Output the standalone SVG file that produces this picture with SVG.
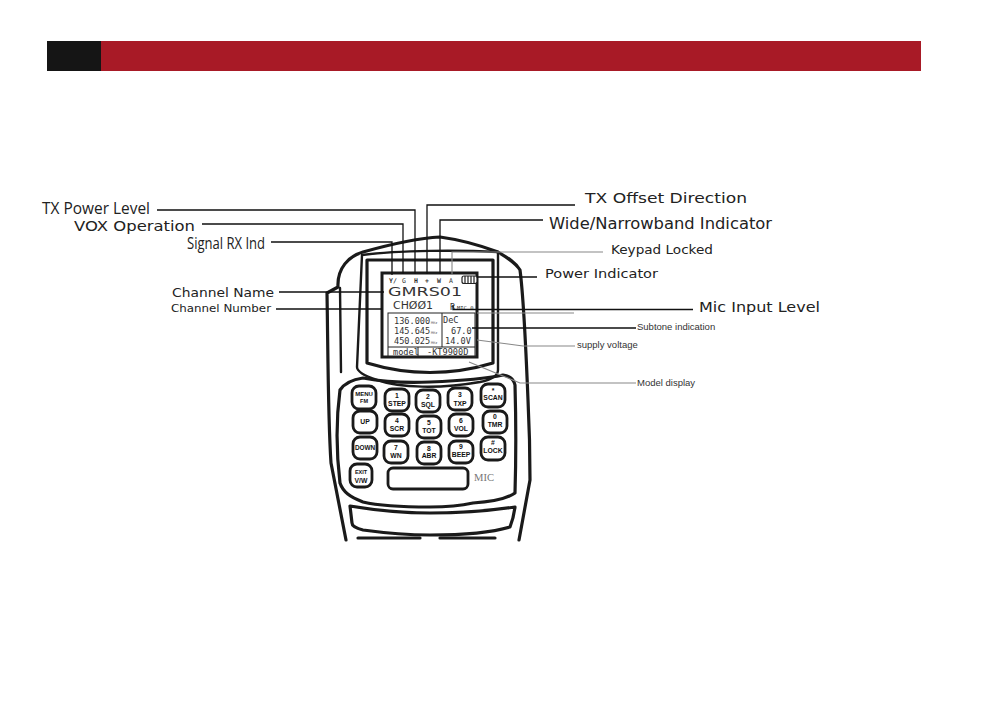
<svg xmlns="http://www.w3.org/2000/svg" width="1008" height="720" viewBox="0 0 1008 720">
<style>
.s{fill:none;stroke:#1a1a1a;stroke-width:2.4;stroke-linejoin:round;stroke-linecap:round}
.t{stroke-width:3.2}
.c{fill:none;stroke:#111;stroke-width:1.3}
.g{fill:none;stroke:#888;stroke-width:1.1}
.l{font-family:"DejaVu Sans",sans-serif;fill:#222}
.o{font-family:"Open Sans",sans-serif;fill:#222}
.n{font-family:"Liberation Sans",Arial,sans-serif;fill:#333;font-size:9.5px}
.k{font-family:"Liberation Sans",Arial,sans-serif;font-weight:700;font-size:6.8px;fill:#111;text-anchor:middle}
.d{font-family:"DejaVu Sans Mono",monospace;fill:#333;font-size:8.6px}
.i{font-family:"DejaVu Sans Mono",monospace;fill:#333;font-size:6.5px;font-weight:700}
.u{font-family:"DejaVu Sans Mono",monospace;fill:#555;font-size:3.5px}
.b{fill:#fff;stroke:#1a1a1a;stroke-width:2.8}
</style>
<rect width="1008" height="720" fill="#fff"/>
<g id="header">
<rect x="47" y="41" width="54" height="30" fill="#151515"/>
<rect x="101" y="41" width="820" height="30" fill="#a81a26"/>
</g>
<g id="device">
<path class="s t" d="M327 293L338 287C337 268 349 256 363 252C395 243 420 238 440 237C462 240 482 246 498 252C508 258 516 263 520 270C524 300 526 350 528 400C530 440 530 470 530 480L519 540M327 293C328 350 328 420 331 463L346 540"/>
<path class="s" d="M340 288L341 372M362 255C400 250 460 250 498 252L498 370C498 376 490 380 480 382C440 389 400 388 377 380C365 376 357 372 357 367Z"/>
<path class="s t" d="M367 260H493V363C450 376 410 376 367 363Z"/>
<rect x="382" y="273" width="95" height="84" fill="#fff" stroke="#1a1a1a" stroke-width="3"/>
<path class="s t" d="M340 390C346 381 356 379 363 378C385 382 410 383 430 382C455 381 485 379 503 375C510 376 514 380 515 385C516 420 516 460 515 493C505 500 490 502 473 503C455 507 440 507 430 507C405 507 380 506 363 502C350 497 343 492 340 483C336 450 336 420 340 390Z"/>
<path class="s t" d="M350 506C380 511 405 513 430 513C465 513 495 510 515 507C514 515 512 522 510 527C490 533 460 535 430 535C405 535 385 533 363 530C355 528 352 526 352 523Z"/>
<path class="s t" d="M358 538H420M440 538H495"/>
</g>
<g id="screen">
<rect x="388" y="313" width="87" height="44" fill="none" stroke="#222" stroke-width="1"/>
<path d="M442 313V347M388 347H475M418 347V357" fill="none" stroke="#222" stroke-width="1"/>
<text x="388" y="296" font-family="DejaVu Sans,sans-serif" font-size="12.500" fill="#333" textLength="74" lengthAdjust="spacingAndGlyphs">GMRS01</text>
<text x="393" y="309" font-family="DejaVu Sans,sans-serif" font-size="11" fill="#333" textLength="40" lengthAdjust="spacingAndGlyphs">CHØØ1</text>
<text x="450" y="310" class="d">R</text>
<text x="457" y="310" class="d" style="font-size:5.5px">MIC 0</text>
<text x="394" y="324" class="d">136.000</text><text x="431" y="324" class="u">MHz</text>
<text x="394" y="334" class="d">145.645</text><text x="431" y="334" class="u">MHz</text>
<text x="394" y="344" class="d">450.025</text><text x="431" y="344" class="u">MHz</text>
<text x="443" y="323" class="d">DeC</text>
<text x="451" y="334" class="d">67.0</text>
<text x="445" y="344" class="d">14.0V</text>
<text x="393" y="355" class="d">model</text>
<text x="427" y="355" class="d">-KT9900D</text>
<text x="389" y="283" class="i">Y/</text>
<text x="402" y="283" class="i" style="font-weight:400">G</text>
<text x="414" y="283" class="i">H</text>
<text x="425" y="283" class="i">+</text>
<text x="437" y="283" class="i">W</text>
<text x="449" y="283" class="i" style="font-weight:400">A</text>
<rect x="462" y="276" width="15" height="7.5" rx="2" fill="#fff" stroke="#222" stroke-width="1.2"/>
<path d="M465 276V284M468 276V284M471 276V284M474 276V284" stroke="#222" stroke-width="1.2"/>
</g>
<g id="keypad">
<g id="key-menu"><rect class="b" x="352" y="386" width="24" height="23" rx="7"/><text class="k" x="364" y="396" style="font-size:6px">MENU</text><text class="k" x="364" y="403" style="font-size:5.5px">FM</text></g>
<g id="key-1"><rect class="b" x="385" y="389" width="24" height="22" rx="7"/><text class="k" x="397" y="398">1</text><text class="k" x="397" y="406">STEP</text></g>
<g id="key-2"><rect class="b" x="416" y="390" width="24" height="22" rx="7"/><text class="k" x="428" y="399">2</text><text class="k" x="428" y="407">SQL</text></g>
<g id="key-3"><rect class="b" x="448" y="388" width="24" height="22" rx="7"/><text class="k" x="460" y="397">3</text><text class="k" x="460" y="406">TXP</text></g>
<g id="key-scan"><rect class="b" x="481" y="384" width="24" height="23" rx="7"/><text class="k" x="493" y="393">*</text><text class="k" x="493" y="400">SCAN</text></g>
<g id="key-up"><rect class="b" x="353" y="411" width="24" height="22" rx="7"/><text class="k" x="365" y="424">UP</text></g>
<g id="key-4"><rect class="b" x="385" y="414" width="24" height="22" rx="7"/><text class="k" x="397" y="423">4</text><text class="k" x="397" y="431">SCR</text></g>
<g id="key-5"><rect class="b" x="417" y="416" width="24" height="22" rx="7"/><text class="k" x="429" y="425">5</text><text class="k" x="429" y="433">TOT</text></g>
<g id="key-6"><rect class="b" x="449" y="414" width="24" height="22" rx="7"/><text class="k" x="461" y="423">6</text><text class="k" x="461" y="431">VOL</text></g>
<g id="key-tmr"><rect class="b" x="483" y="411" width="24" height="22" rx="7"/><text class="k" x="495" y="419">0</text><text class="k" x="495" y="427">TMR</text></g>
<g id="key-down"><rect class="b" x="353" y="437" width="24" height="22" rx="7"/><text class="k" x="365" y="450" style="font-size:6.4px">DOWN</text></g>
<g id="key-7"><rect class="b" x="384" y="441" width="24" height="22" rx="7"/><text class="k" x="396" y="450">7</text><text class="k" x="396" y="458">WN</text></g>
<g id="key-8"><rect class="b" x="417" y="442" width="24" height="22" rx="7"/><text class="k" x="429" y="451">8</text><text class="k" x="429" y="458">ABR</text></g>
<g id="key-9"><rect class="b" x="449" y="441" width="24" height="22" rx="7"/><text class="k" x="461" y="449">9</text><text class="k" x="461" y="457">BEEP</text></g>
<g id="key-lock"><rect class="b" x="481" y="437" width="24" height="23" rx="7"/><text class="k" x="493" y="445">#</text><text class="k" x="493" y="453">LOCK</text></g>
<g id="key-exit"><rect class="b" x="350" y="464" width="22" height="23" rx="7"/><text class="k" x="361" y="474" style="font-size:5.5px">EXIT</text><text class="k" x="361" y="483">V/W</text></g>
<rect class="b" x="388" y="468" width="80" height="21" rx="5"/>
<text x="474" y="481" font-family="Liberation Serif,serif" font-size="10" fill="#777" textLength="20" lengthAdjust="spacingAndGlyphs">MIC</text>
</g>
<g id="connectors">
<path class="c" d="M157 210H415V274M202 224H403V274M271 242H392V275M427 274V205H575M440 274V220H543M477 277H537M279 292H384M276 309H382M453 305V309.500H693M472 328H636"/>
<path class="g" d="M452 275V252H603M477 313H574M477 340L523 346H575M469 362L520 383H636"/>
</g>
<g id="labels">
<text class="o" x="42" y="214" font-size="16" textLength="108" lengthAdjust="spacingAndGlyphs">TX Power Level</text>
<text class="l" x="74" y="231" font-size="14" textLength="121" lengthAdjust="spacingAndGlyphs">VOX Operation</text>
<text class="o" x="187" y="249" font-size="16.500" textLength="78" lengthAdjust="spacingAndGlyphs">Signal RX Ind</text>
<text class="l" x="172" y="297" font-size="12.500" textLength="102" lengthAdjust="spacingAndGlyphs">Channel Name</text>
<text class="l" x="171" y="312" font-size="10.500" textLength="100" lengthAdjust="spacingAndGlyphs">Channel Number</text>
<text class="l" x="585" y="203" font-size="13.500" textLength="162" lengthAdjust="spacingAndGlyphs">TX Offset Direction</text>
<text class="l" x="549" y="229" font-size="16" textLength="223" lengthAdjust="spacingAndGlyphs">Wide/Narrowband Indicator</text>
<text class="l" x="611" y="254" font-size="12.500" textLength="102" lengthAdjust="spacingAndGlyphs">Keypad Locked</text>
<text class="l" x="545" y="278" font-size="12.500" textLength="113" lengthAdjust="spacingAndGlyphs">Power Indicator</text>
<text class="l" x="699" y="312" font-size="14" textLength="121" lengthAdjust="spacingAndGlyphs">Mic Input Level</text>
<text class="n" x="637" y="330">Subtone indication</text>
<text class="n" x="577" y="348">supply voltage</text>
<text class="n" x="637" y="386">Model display</text>
</g>
</svg>
